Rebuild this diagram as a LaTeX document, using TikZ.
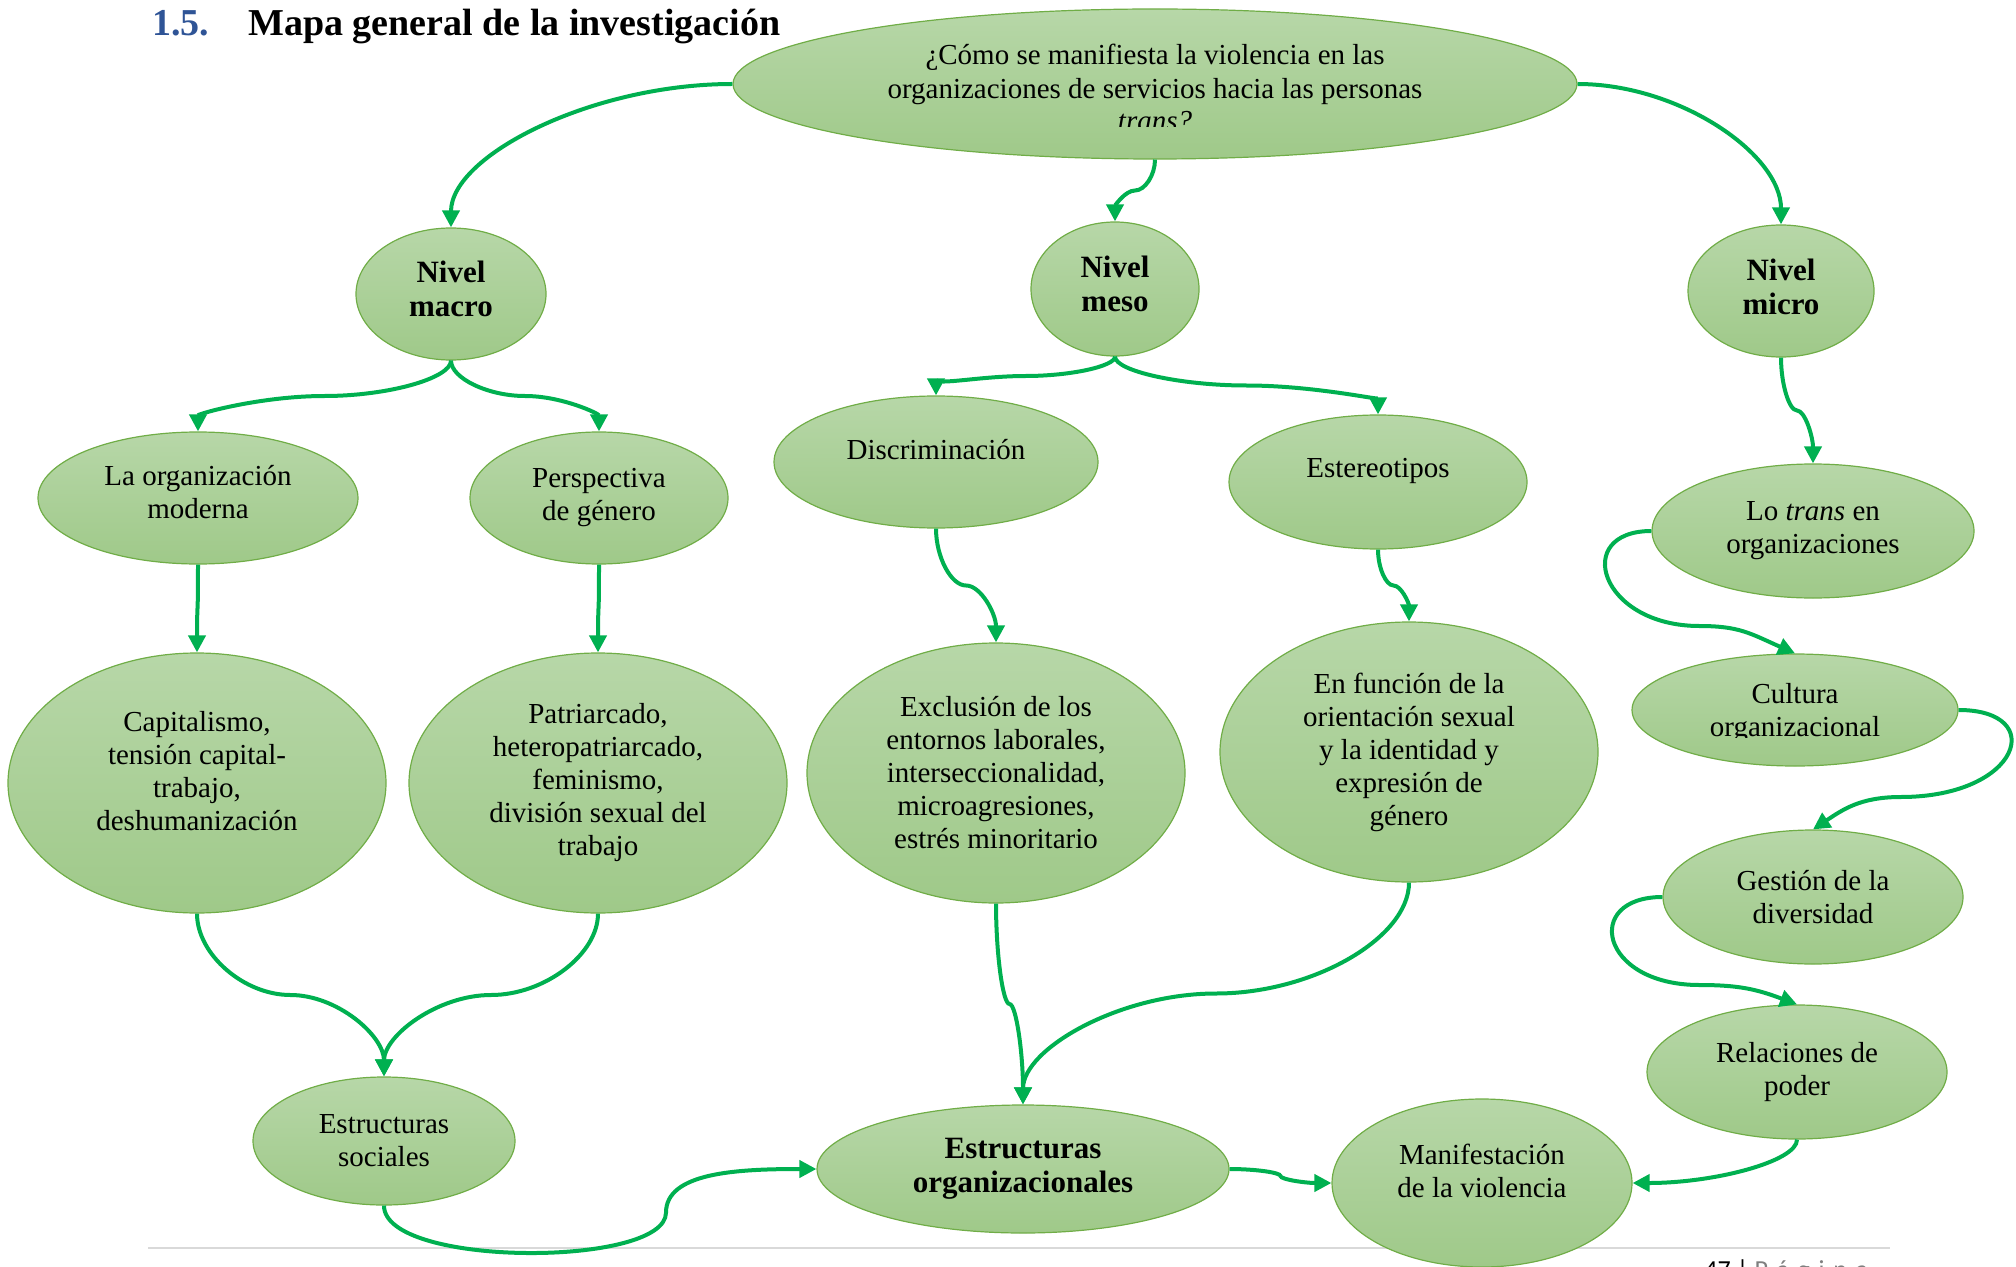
\documentclass[tikz,border=0pt]{standalone}
\usepackage{fontspec}
\setmainfont{Liberation Serif}
\newfontfamily\footfont{Carlito}
\usetikzlibrary{shapes.geometric,arrows.meta,calc}
\definecolor{gtop}{HTML}{B7D7A8}
\definecolor{gbot}{HTML}{9FC989}
\definecolor{gedge}{HTML}{70AD47}
\definecolor{arr}{HTML}{00B050}
\definecolor{tblue}{HTML}{2F5496}
\definecolor{rulegray}{HTML}{D9D9D9}
\definecolor{footgray}{HTML}{7F7F7F}
\begin{document}
\begin{tikzpicture}[x=0.5pt,y=0.5pt,
  sz/.style 2 args={minimum width=#1pt, minimum height=#2pt},
  bub/.style={ellipse, draw=gedge, line width=0.6pt, top color=gtop, bottom color=gbot,
    inner sep=0pt, align=center, font=\fontsize{14.5}{16.5}\selectfont},
  bbub/.style={bub, font=\bfseries\fontsize{15.5}{17}\selectfont},
  txt/.style={align=center, inner sep=0pt, font=\fontsize{14.5}{16.5}\selectfont},
  conn/.style={draw=arr, line width=2pt, -{Triangle[length=8.5pt,width=8.5pt]}},
  % vertical-start, vertical-end curved connector (Word style)
  vv/.style={to path={let \p1=(\tikztostart), \p2=(\tikztotarget) in
    .. controls (\x1,{(3*\y1+\y2)/4}) and ({(3*\x1+\x2)/4},{(\y1+\y2)/2}) .. ({(\x1+\x2)/2},{(\y1+\y2)/2})
    .. controls ({(\x1+3*\x2)/4},{(\y1+\y2)/2}) and (\x2,{(\y1+3*\y2)/4}) .. (\tikztotarget)}},
  % horizontal-start, horizontal-end
  hh/.style={to path={let \p1=(\tikztostart), \p2=(\tikztotarget) in
    .. controls ({(3*\x1+\x2)/4},\y1) and ({(\x1+\x2)/2},{(3*\y1+\y2)/4}) .. ({(\x1+\x2)/2},{(\y1+\y2)/2})
    .. controls ({(\x1+\x2)/2},{(\y1+3*\y2)/4}) and ({(\x1+3*\x2)/4},\y2) .. (\tikztotarget)}},
  % horizontal-start, vertical-end
  hv/.style={to path={let \p1=(\tikztostart), \p2=(\tikztotarget) in
    .. controls ({(\x1+\x2)/2},\y1) and (\x2,{(\y1+\y2)/2}) .. (\tikztotarget)}},
  % vertical-start, horizontal-end
  vh/.style={to path={let \p1=(\tikztostart), \p2=(\tikztotarget) in
    .. controls (\x1,{(\y1+\y2)/2}) and ({(\x1+\x2)/2},\y2) .. (\tikztotarget)}},
]
\useasboundingbox (0,0) rectangle (2016,-1267);

% footer rule and page number (behind everything)
\draw[rulegray, line width=1.2pt] (148,-1248) -- (1890,-1248);
\node[anchor=base west, inner sep=0pt, font=\footfont\fontsize{13}{15}\selectfont] (pg) at (1704,-1278)
  {47 | \textcolor{footgray}{P\,\,á\,\,g\,\,i\,\,n\,\,a}};

% title
\node[anchor=base west, inner sep=0pt, text=tblue, font=\bfseries\fontsize{19}{22}\selectfont] (num) at (152,-36) {1.5.};
\node[anchor=base west, inner sep=0pt, font=\bfseries\fontsize{19}{22}\selectfont] (title) at (248,-36) {Mapa general de la investigación};

% question
\node[bub, sz={422}{75}] (q) at (1155,-84) {};
\begin{scope}
  \clip (740,-10) rectangle (1570,-127);
  \node[txt] (qt) at (1155,-88) {¿Cómo se manifiesta la violencia en las\\organizaciones de servicios hacia las personas\\\textit{trans?}};
\end{scope}

% levels
\node[bbub, sz={95}{66}] (macro) at (451,-294) {};
\node[txt, font=\bfseries\fontsize{15.5}{17}\selectfont] (macrot) at (451,-289) {Nivel\\macro};
\node[bbub, sz={84}{67}] (meso) at (1115,-289) {};
\node[txt, font=\bfseries\fontsize{15.5}{17}\selectfont] (mesot) at (1115,-284) {Nivel\\meso};
\node[bbub, sz={93}{66}] (micro) at (1781,-291) {};
\node[txt, font=\bfseries\fontsize{15.5}{17}\selectfont] (microt) at (1781,-287) {Nivel\\micro};

% second row
\node[bub, sz={160}{66}] (org) at (198,-498) {};
\node[txt] (orgt) at (198,-492) {La organización\\moderna};
\node[bub, sz={129}{66}] (persp) at (599,-498) {Perspectiva\\de género};
\node[bub, sz={162}{66}] (disc) at (936,-462) {};
\node[txt] (disct) at (936,-450) {Discriminación};
\node[bub, sz={149}{67}] (este) at (1378,-482) {};
\node[txt] (estet) at (1378,-471) {Estereotipos};
\node[bub, sz={161}{67}] (lotrans) at (1813,-531) {Lo \textit{trans} en\\organizaciones};

% third row
\node[bub, sz={189}{130}] (capit) at (197,-783) {};
\node[txt] (capitt) at (197,-771) {Capitalismo,\\tensión capital-\\trabajo,\\deshumanización};
\node[bub, sz={189}{130}] (patri) at (598,-783) {Patriarcado,\\heteropatriarcado,\\feminismo,\\división sexual del\\trabajo};
\node[bub, sz={189}{130}] (exclu) at (996,-773) {Exclusión de los\\entornos laborales,\\interseccionalidad,\\microagresiones,\\estrés minoritario};
\node[bub, sz={189}{130}] (enfun) at (1409,-752) {En función de la\\orientación sexual\\y la identidad y\\expresión de\\género};

% micro chain
\node[bub, sz={163}{56}] (cultura) at (1795,-710) {};
\begin{scope}
  \clip (1640,-660) rectangle (1950,-737);
  \node[txt] (culturat) at (1795,-713) {Cultura\\organizacional};
\end{scope}
\node[bub, sz={150}{67}] (gestion) at (1813,-897) {Gestión de la\\diversidad};
\node[bub, sz={150}{67}] (relac) at (1797,-1072) {Relaciones de\\poder};

% bottom row
\node[bub, sz={131}{64}] (esoc) at (384,-1141) {Estructuras\\sociales};
\node[bbub, sz={206}{64}] (eorg) at (1023,-1169) {Estructuras\\organizacionales};
\node[bub, sz={150}{84}] (manif) at (1482,-1183) {};
\node[txt] (manift) at (1482,-1171) {Manifestación\\de la violencia};

% connectors
\draw[conn] (q.west) to[hv] (macro.north);
\draw[conn] (q.south) to[vv] (meso.north);
\draw[conn] (q.east) to[hv] (micro.north);
\draw[conn] (macro.south) to[vv] (org.north);
\draw[conn] (macro.south) to[vv] (persp.north);
\draw[conn] (meso.south) to[vv] (disc.north);
\draw[conn] (meso.south) to[vv] (este.north);
\draw[conn] (micro.south) to[vv] (lotrans.north);
\draw[conn] (org.south) to[vv] (capit.north);
\draw[conn] (persp.south) to[vv] (patri.north);
\draw[conn] (disc.south) to[vv] (exclu.north);
\draw[conn] (este.south) to[vv] (enfun.north);
\draw[conn] (lotrans.west) .. controls +(-80,0) and +(-100,0) .. ++(48,-95)
   .. controls +(40,0) and +(-45,20) .. (cultura.north);
\draw[conn] (cultura.east) .. controls +(90,0) and +(120,0) .. ++(-58,-87)
   .. controls +(-40,0) and +(30,20) .. (gestion.north);
\draw[conn] (gestion.west) .. controls +(-80,0) and +(-100,0) .. ++(37,-88)
   .. controls +(40,0) and +(-40,15) .. (relac.north);
\draw[conn] (relac.south) to[vh] (manif.east);
\draw[conn] (capit.south) to[vv] (esoc.north);
\draw[conn] (patri.south) to[vv] (esoc.north);
\draw[conn] (exclu.south) to[vv] (eorg.north);
\draw[conn] (enfun.south) to[vv] (eorg.north);
\draw[conn] (esoc.south) .. controls +(0,-62) and +(0,-55) .. ++(282,-7)
   .. controls +(0,40) and +(-80,0) .. (eorg.west);
\draw[conn] (eorg.east) to[hh] (manif.west);
\end{tikzpicture}
\end{document}
